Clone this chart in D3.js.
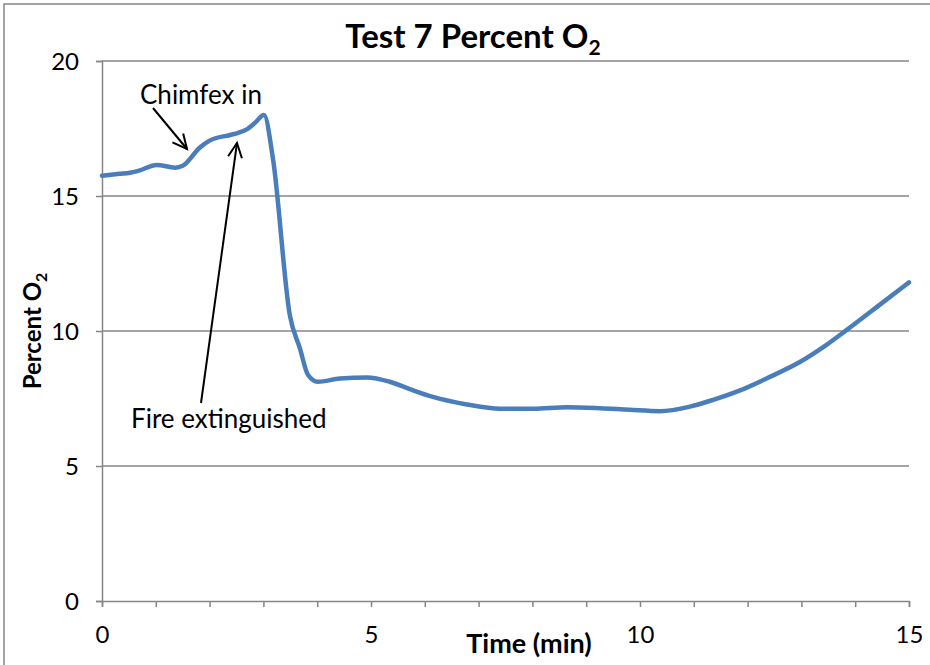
<!DOCTYPE html>
<html><head><meta charset="utf-8">
<script src="https://cdn.jsdelivr.net/npm/d3@7"></script>
<style>body{margin:0;background:#fff}svg{display:block}text{font-family:Lato,"Open Sans",sans-serif}</style>
</head><body>
<script>
const times = [0,0.33,0.52,0.67,1.02,1.36,1.5,1.82,2.0,2.38,2.53,2.7,2.84,3.01,3.18,3.49,3.68,3.83,4.01,4.42,4.93,5.35,5.72,6.15,6.78,7.4,8.01,8.64,9.26,9.81,10.37,10.93,11.36,11.86,12.36,12.97,13.44,13.85,14.52,15.0];
const o2 = [15.75,15.82,15.86,15.93,16.15,16.05,16.12,16.8,17.05,17.26,17.34,17.48,17.7,18.0,16.35,10.6,9.35,8.37,8.12,8.24,8.28,8.12,7.85,7.56,7.28,7.12,7.12,7.18,7.14,7.08,7.03,7.2,7.45,7.8,8.25,8.85,9.45,10.05,11.07,11.8];
const xTickLabels = [0,5,10,15];
const yTickLabels = [0,5,10,15,20];
const minorXTicks = d3.range(0,16,1);

const W=930,H=665;
const svg=d3.select("body").append("svg").attr("width",W).attr("height",H);
const grey="#868686";
svg.append("rect").attr("x",4).attr("y",4).attr("width",1000).attr("height",1000).attr("fill","none").attr("stroke",grey).attr("stroke-width",1.5);

const x=d3.scaleLinear().domain([0,15]).range([102,909]);
const y=d3.scaleLinear().domain([0,20]).range([601,61]);

// gridlines
svg.append("g").selectAll("line").data(yTickLabels.filter(d=>d>0)).join("line")
  .attr("x1",x(0)).attr("x2",x(15)).attr("y1",d=>y(d)).attr("y2",d=>y(d))
  .attr("stroke",grey).attr("stroke-width",1.5);

// y axis
const ya=svg.append("g").attr("transform",`translate(${x(0)},0)`)
  .call(d3.axisLeft(y).tickValues(yTickLabels).tickSize(6).tickPadding(17).tickFormat(d3.format("d")));
ya.select(".domain").attr("stroke",grey).attr("stroke-width",1.5);
ya.selectAll(".tick line").attr("stroke",grey).attr("stroke-width",1.5);
ya.selectAll(".tick text").attr("font-size",24).attr("fill","#000").attr("dy","0.35em").style("font-family","Lato,sans-serif");

// x axis
const xa=svg.append("g").attr("transform",`translate(0,${y(0)})`)
  .call(d3.axisBottom(x).tickValues(minorXTicks).tickSize(6).tickPadding(9).tickFormat(d=>xTickLabels.includes(d)?d:""));
xa.select(".domain").attr("stroke",grey).attr("stroke-width",1.5);
xa.selectAll(".tick line").attr("stroke",grey).attr("stroke-width",1.5);
xa.selectAll(".tick text").attr("font-size",24).attr("fill","#000").attr("y",42).attr("dy",0).style("font-family","Lato,sans-serif");

// line
const data=times.map((t,i)=>({t,v:o2[i]}));
svg.append("path").datum(data)
  .attr("d",d3.line().x(d=>x(d.t)).y(d=>y(d.v)).curve(d3.curveMonotoneX))
  .attr("fill","none").attr("stroke","#4a7ebb").attr("stroke-width",4.5).attr("stroke-linejoin","round").attr("stroke-linecap","round");

// title
const title=svg.append("text").attr("x",473).attr("y",48).attr("text-anchor","middle")
  .attr("font-size",33).attr("font-weight","bold");
title.append("tspan").text("Test 7 Percent O");
title.append("tspan").text("2").attr("font-size",21).attr("dy",7);

// axis titles
svg.append("text").attr("x",529).attr("y",653).attr("text-anchor","middle")
  .attr("font-size",27).attr("font-weight","bold").text("Time (min)");
const yl=svg.append("text").attr("transform","translate(41,331) rotate(-90)").attr("text-anchor","middle")
  .attr("font-size",24).attr("font-weight","bold");
yl.append("tspan").text("Percent O");
yl.append("tspan").text("2").attr("font-size",16).attr("dy",6);

// annotations
svg.append("text").attr("x",140).attr("y",104).attr("font-size",26).text("Chimfex in");
svg.append("text").attr("x",131).attr("y",428).attr("font-size",26).text("Fire extinguished");

function arrow(x1,y1,x2,y2){
  const g=svg.append("g").attr("stroke","#000").attr("stroke-width",2).attr("fill","none");
  g.append("line").attr("x1",x1).attr("y1",y1).attr("x2",x2).attr("y2",y2);
  const a=Math.atan2(y2-y1,x2-x1), L=16, s=0.45;
  g.append("path").attr("d",`M${x2-L*Math.cos(a-s)},${y2-L*Math.sin(a-s)}L${x2},${y2}L${x2-L*Math.cos(a+s)},${y2-L*Math.sin(a+s)}`);
}
arrow(153,108,187,149);
arrow(201,403,237,143);
</script>
</body></html>
